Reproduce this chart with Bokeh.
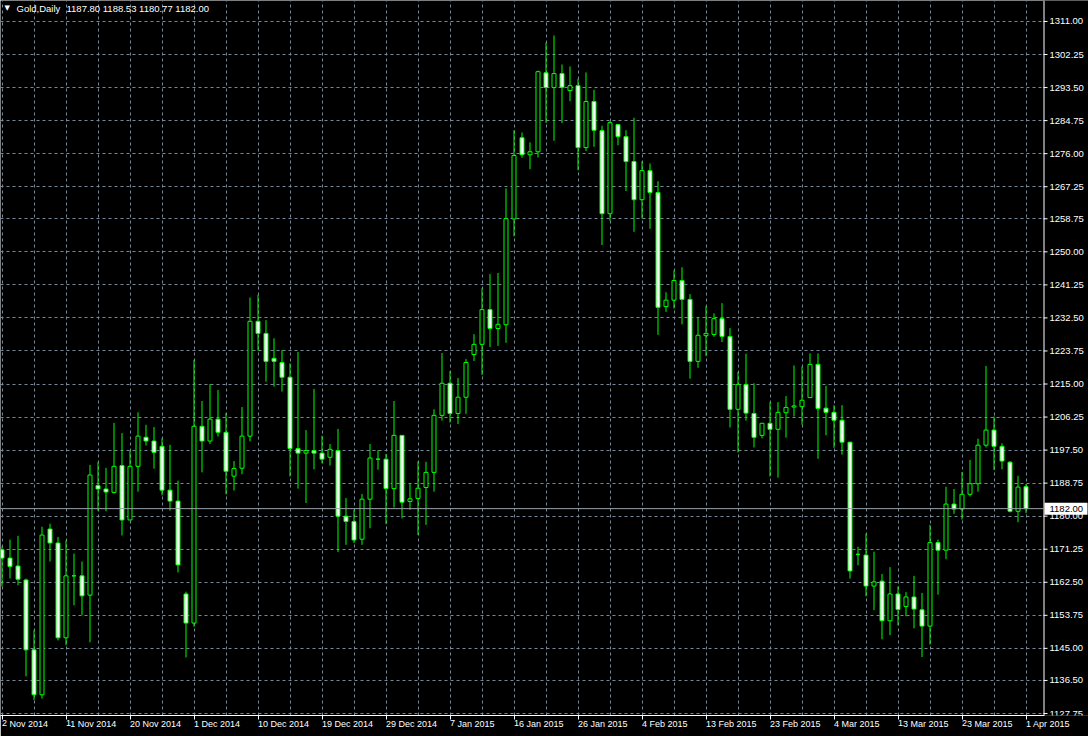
from bokeh.plotting import figure
from bokeh.models import Range1d, FixedTicker, Span, Label, ColumnDataSource
from bokeh.core.properties import value
from bokeh.embed import file_html
from bokeh.resources import INLINE

# ---- data (Gold, Daily) ----
opens = [1171.1, 1168.9, 1166.8, 1163.1, 1144.6, 1132.7, 1176.6, 1172.9, 1147.8, 1164.2,
         1164.2, 1159.1, 1188.1, 1187.2, 1186.3, 1193.4, 1179.0, 1193.2, 1200.9, 1199.9,
         1198.5, 1186.9, 1184.0, 1159.4, 1151.7, 1203.8, 1199.9, 1205.7, 1202.2, 1190.6,
         1192.7, 1201.2, 1231.6, 1228.4, 1221.8, 1220.7, 1216.8, 1197.9, 1196.7, 1197.4,
         1196.7, 1195.6, 1197.4, 1180.0, 1178.6, 1173.9, 1184.5, 1195.1, 1195.1, 1187.3,
         1201.4, 1183.9, 1184.7, 1187.6, 1191.6, 1206.7, 1215.2, 1207.2, 1211.5, 1222.8,
         1225.5, 1234.7, 1229.7, 1230.7, 1258.7, 1280.2, 1275.7, 1276.5, 1297.4, 1293.5,
         1297.2, 1292.7, 1294.0, 1277.6, 1289.8, 1282.1, 1260.1, 1283.7, 1280.5, 1273.9,
         1263.8, 1271.5, 1265.7, 1235.5, 1237.2, 1242.4, 1237.4, 1221.0, 1227.8, 1228.1,
         1232.3, 1227.6, 1208.3, 1214.9, 1207.2, 1201.4, 1204.6, 1203.0, 1207.4, 1208.9,
         1209.0, 1211.4, 1220.2, 1208.6, 1207.5, 1205.4, 1199.6, 1169.9, 1169.7, 1161.5,
         1162.8, 1152.3, 1159.4, 1156.1, 1158.6, 1155.2, 1150.9, 1173.0, 1171.0, 1183.2,
         1181.9, 1185.8, 1188.6, 1198.8, 1202.8, 1198.5, 1194.3, 1181.3, 1187.80]
highs = [1172.0, 1173.8, 1174.8, 1163.5, 1149.8, 1177.2, 1178.0, 1174.5, 1173.6, 1170.1,
         1168.0, 1193.6, 1194.3, 1192.8, 1204.7, 1202.0, 1197.4, 1207.5, 1204.2, 1203.6,
         1200.6, 1198.9, 1189.4, 1160.0, 1221.4, 1210.5, 1215.0, 1213.4, 1207.3, 1194.6,
         1208.9, 1237.9, 1238.6, 1231.9, 1227.1, 1224.0, 1220.5, 1223.5, 1202.8, 1213.7,
         1201.3, 1199.1, 1203.1, 1184.8, 1181.7, 1185.9, 1199.1, 1197.5, 1196.5, 1210.5,
         1201.4, 1188.6, 1194.5, 1194.4, 1208.3, 1223.2, 1218.4, 1216.6, 1221.6, 1228.2,
         1240.3, 1244.1, 1244.4, 1266.8, 1282.2, 1281.6, 1279.0, 1298.0, 1305.4, 1307.3,
         1299.6, 1299.1, 1295.8, 1297.5, 1292.9, 1283.4, 1284.6, 1283.7, 1282.2, 1285.5,
         1274.0, 1273.4, 1268.7, 1239.3, 1245.1, 1245.9, 1238.8, 1232.6, 1235.6, 1233.7,
         1236.4, 1229.8, 1218.2, 1223.0, 1215.2, 1204.6, 1210.2, 1210.2, 1211.8, 1219.9,
         1219.6, 1223.1, 1223.1, 1214.5, 1209.4, 1209.4, 1199.6, 1171.9, 1175.4, 1170.6,
         1164.7, 1166.5, 1161.4, 1159.9, 1164.2, 1159.7, 1177.7, 1173.8, 1187.8, 1187.2,
         1191.7, 1194.9, 1200.5, 1219.8, 1206.4, 1199.3, 1194.6, 1190.7, 1188.53]
lows = [1161.4, 1163.5, 1161.7, 1137.6, 1131.3, 1131.7, 1168.0, 1147.1, 1145.8, 1156.4,
        1153.8, 1146.6, 1181.4, 1181.3, 1186.0, 1174.9, 1178.9, 1186.5, 1198.7, 1192.6,
        1185.5, 1181.5, 1165.1, 1142.6, 1150.7, 1191.6, 1199.1, 1201.1, 1185.8, 1186.8,
        1191.1, 1199.8, 1223.8, 1215.6, 1214.3, 1213.0, 1190.5, 1187.3, 1183.5, 1192.4,
        1194.0, 1193.4, 1170.5, 1172.4, 1172.9, 1172.4, 1176.8, 1192.3, 1177.9, 1182.3,
        1179.4, 1181.7, 1175.0, 1177.7, 1186.5, 1205.3, 1204.8, 1204.4, 1207.1, 1221.1,
        1217.4, 1224.8, 1225.1, 1225.9, 1254.1, 1274.9, 1271.9, 1275.0, 1284.1, 1279.4,
        1284.1, 1289.9, 1271.6, 1276.7, 1277.8, 1251.8, 1258.2, 1278.2, 1266.1, 1255.3,
        1258.8, 1256.1, 1228.0, 1234.1, 1235.0, 1230.8, 1216.4, 1219.3, 1222.4, 1227.5,
        1226.1, 1203.5, 1196.9, 1205.3, 1198.2, 1200.6, 1190.5, 1190.2, 1200.8, 1206.4,
        1204.2, 1211.4, 1195.2, 1201.4, 1198.1, 1196.3, 1163.5, 1167.0, 1158.8, 1155.1,
        1147.4, 1148.5, 1151.1, 1153.5, 1150.3, 1142.7, 1146.0, 1159.2, 1168.6, 1180.6,
        1179.1, 1185.2, 1186.5, 1198.2, 1192.2, 1192.4, 1181.0, 1178.4, 1180.77]
closes = [1168.9, 1166.7, 1163.3, 1144.6, 1132.7, 1175.0, 1172.9, 1147.8, 1164.2, 1164.2,
          1158.9, 1190.9, 1187.2, 1186.4, 1193.2, 1179.0, 1193.2, 1201.2, 1199.9, 1196.9,
          1186.9, 1184.0, 1167.1, 1151.7, 1203.8, 1199.9, 1205.7, 1202.2, 1191.9, 1192.6,
          1201.2, 1231.6, 1228.4, 1221.0, 1221.0, 1216.8, 1197.9, 1196.7, 1197.4, 1196.7,
          1195.1, 1197.7, 1180.0, 1178.6, 1173.7, 1184.5, 1195.4, 1195.1, 1187.3, 1201.4,
          1183.7, 1184.6, 1187.4, 1191.6, 1206.7, 1215.2, 1207.2, 1211.5, 1220.7, 1225.5,
          1234.7, 1229.7, 1230.8, 1258.8, 1275.5, 1275.7, 1276.5, 1297.7, 1293.5, 1297.2,
          1293.6, 1294.0, 1277.6, 1289.8, 1282.2, 1260.1, 1284.2, 1280.5, 1273.9, 1263.8,
          1271.5, 1265.7, 1235.3, 1237.2, 1242.4, 1237.4, 1221.0, 1227.9, 1228.4, 1232.3,
          1227.6, 1208.3, 1214.9, 1207.3, 1200.9, 1204.6, 1203.0, 1207.5, 1208.8, 1209.2,
          1210.7, 1220.2, 1208.5, 1207.5, 1205.4, 1199.6, 1165.5, 1169.9, 1161.5, 1162.6,
          1152.3, 1159.4, 1155.3, 1158.6, 1155.4, 1150.9, 1173.0, 1171.0, 1183.2, 1181.9,
          1185.8, 1188.6, 1198.8, 1202.8, 1198.5, 1194.6, 1181.3, 1187.7, 1182.00]

date_labels = ["2 Nov 2014", "11 Nov 2014", "20 Nov 2014", "1 Dec 2014", "10 Dec 2014",
               "19 Dec 2014", "29 Dec 2014", "7 Jan 2015", "16 Jan 2015", "26 Jan 2015",
               "4 Feb 2015", "13 Feb 2015", "23 Feb 2015", "4 Mar 2015", "13 Mar 2015",
               "23 Mar 2015", "1 Apr 2015"]
date_label_bars = [0, 8, 16, 24, 32, 40, 48, 56, 64, 72, 80, 88, 96, 104, 112, 120, 128]
price_ticks = [1311.00, 1302.25, 1293.50, 1284.75, 1276.00, 1267.25, 1258.75, 1250.00,
               1241.25, 1232.50, 1223.75, 1215.00, 1206.25, 1197.50, 1188.75, 1180.00,
               1171.25, 1162.50, 1153.75, 1145.00, 1136.50, 1127.75]
symbol_name = "Gold,Daily"
last_price = 1182.00

# ---- layout (pixels) ----
W, H = 1088, 736
CHART_W = 1043          # chart area; price scale to its right
BOTTOM = 20
BAR_PX = 8.0
x0 = -1.5 / BAR_PX
x_end = x0 + W / BAR_PX
x_edge = x0 + CHART_W / BAR_PX
x_border = x0 + (CHART_W + 0.5) / BAR_PX
ppu = (714 - 21) / (1311.00 - 1127.75)
y_hi = 1311.00 + 21 / ppu
y_lo = 1127.75 - (H - BOTTOM - 714) / ppu


def px_x(px):
    return x0 + px / BAR_PX


FONT = "Liberation Sans"
FS = "9.5px"
FS_DATE = "9px"
GREEN = "#00ff00"
GRID = "#778899"

n = len(closes)
idx = list(range(n))
bull = [c >= o for o, c in zip(opens, closes)]
src = ColumnDataSource(dict(
    x=idx, o=opens, h=highs, l=lows, c=closes,
    top=[max(o, c) for o, c in zip(opens, closes)],
    bot=[min(o, c) for o, c in zip(opens, closes)],
    fill=["black" if b else "white" for b in bull],
))

p = figure(width=W, height=H, x_range=Range1d(x0, x_end), y_range=Range1d(y_lo, y_hi),
           output_backend="svg", toolbar_location=None, y_axis_location=None,
           background_fill_color="black", border_fill_color="black",
           outline_line_color=None,
           min_border_left=0, min_border_top=0, min_border_right=0,
           min_border_bottom=BOTTOM)

# grid
p.xgrid.ticker = FixedTicker(ticks=list(range(0, n + 4, 4)))
p.ygrid.ticker = FixedTicker(ticks=price_ticks)
for g in (p.xgrid, p.ygrid):
    g.grid_line_color = GRID
    g.grid_line_dash = "3 3"
    g.grid_line_width = 1

# time axis (labels start at their tick)
xa = p.xaxis[0]
xa.ticker = FixedTicker(ticks=date_label_bars)
xa.bounds = (x0, x_border)
xa.major_label_overrides = {b: s for b, s in zip(date_label_bars, date_labels)}
xa.major_label_orientation = -0.0001
xa.axis_line_color = "white"
xa.major_tick_line_color = "white"
xa.major_tick_out = 4
xa.major_tick_in = 0
xa.minor_tick_line_color = None
xa.major_label_text_color = "white"
xa.major_label_text_font = FONT
xa.major_label_text_font_size = FS_DATE
xa.major_label_standoff = 4

# candles
p.segment(x0="x", y0="h", x1="x", y1="l", source=src, line_color=GREEN, line_width=1)
p.vbar(x="x", top="top", bottom="bot", width=0.5, source=src,
       fill_color="fill", line_color=GREEN, line_width=1)

# bid line
p.segment(x0=[x0], y0=[last_price], x1=[x_edge], y1=[last_price],
          line_color="#9aa0a6", line_width=1)

# ---- price scale region (right of the chart) ----
p.quad(left=[x_edge], right=[x_end], bottom=[y_lo], top=[y_hi],
       fill_color="black", line_color=None)
p.add_layout(Span(location=x_border, dimension="height", line_color="white", line_width=1))
nt = len(price_ticks)
p.segment(x0=[px_x(CHART_W)] * nt, y0=price_ticks, x1=[px_x(CHART_W + 4)] * nt, y1=price_ticks,
          line_color="white", line_width=1)
p.text(x=[px_x(CHART_W + 6)] * nt, y=price_ticks, text=["%.2f" % v for v in price_ticks],
       text_color="white", text_font=value(FONT), text_font_size=FS,
       text_baseline="middle", text_align="left")
p.rect(x=[px_x(CHART_W + 22.5)], y=[last_price], width=[43], height=[12],
       width_units="screen", height_units="screen", fill_color="white", line_color=None)
p.text(x=[px_x(CHART_W + 6)], y=[last_price], text=["%.2f" % last_price], text_color="black",
       text_font=value(FONT), text_font_size=FS, text_baseline="middle", text_align="left")

# header text
y_head = y_hi - 8 / ppu
p.add_layout(Label(x=4, y=y_head, x_units="screen", y_units="data", text="\u25bc",
                   text_color="white", text_font="DejaVu Sans", text_font_size="7px",
                   text_baseline="middle"))
p.add_layout(Label(x=16, y=y_head, x_units="screen", y_units="data", text=symbol_name,
                   text_color="white", text_font=FONT, text_font_size=FS,
                   text_baseline="middle"))
p.add_layout(Label(x=66, y=y_head, x_units="screen", y_units="data",
                   text="%.2f %.2f %.2f %.2f" % (opens[-1], highs[-1], lows[-1], closes[-1]),
                   text_color="white", text_font=FONT, text_font_size=FS,
                   text_baseline="middle"))

open("out.html", "w").write(file_html(p, INLINE))
